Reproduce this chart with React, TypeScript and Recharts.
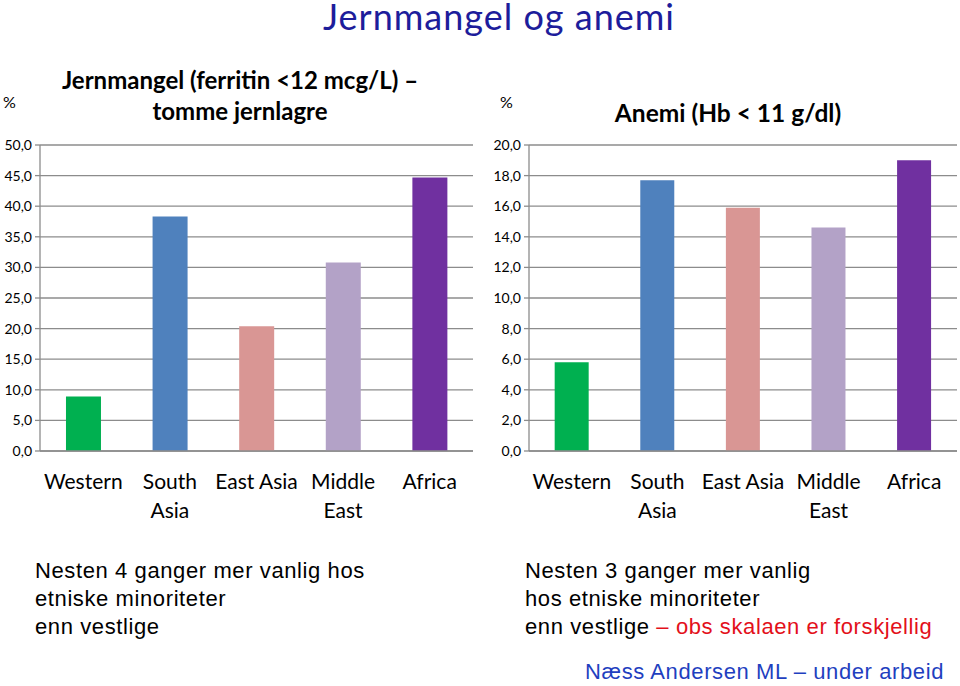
import { BarChart, Bar, XAxis, YAxis, CartesianGrid, Cell } from "recharts";

const categories = ["Western", "South Asia", "East Asia", "Middle East", "Africa"];
const categoryLines: Record<string, string[]> = {
  Western: ["Western"],
  "South Asia": ["South", "Asia"],
  "East Asia": ["East Asia"],
  "Middle East": ["Middle", "East"],
  Africa: ["Africa"],
};
const ironDeficiency = [8.9, 38.3, 20.4, 30.8, 44.7];
const anemia = [5.8, 17.7, 15.9, 14.6, 19.0];
const barColors = ["#00B050", "#4F81BD", "#D99694", "#B3A2C7", "#7030A0"];
const ironTicks = [0, 5, 10, 15, 20, 25, 30, 35, 40, 45, 50];
const anemiaTicks = [0, 2, 4, 6, 8, 10, 12, 14, 16, 18, 20];
const boundaryTicks = [0, 1, 2, 3, 4, 5];

const GRID = "#8c8c8c";
const CHART_FONT = "Lato, 'Noto Sans', sans-serif";
const TEXT_FONT = "'Liberation Sans', Arial, sans-serif";

const fmt = (v: number) => v.toFixed(1).replace(".", ",");

function CategoryTick({ x, y, payload }: any) {
  const lines = categoryLines[payload.value] || [payload.value];
  return (
    <text x={x} y={y} textAnchor="middle" fontSize={21} fill="#000" fontFamily={CHART_FONT}>
      {lines.map((l, i) => (
        <tspan key={i} x={x} dy={i === 0 ? "0.72em" : "1.37em"}>
          {l}
        </tspan>
      ))}
    </text>
  );
}

interface PanelProps {
  values: number[];
  ticks: number[];
  left: number;
  yWidth: number;
  rightMargin: number;
}

function Panel({ values, ticks, left, yWidth, rightMargin }: PanelProps) {
  const data = categories.map((c, i) => ({ name: c, value: values[i] }));
  return (
    <div style={{ position: "absolute", left, top: 0 }}>
      <BarChart
        width={480}
        height={530}
        data={data}
        margin={{ top: 145, right: rightMargin, left: 0, bottom: 0 }}
        barCategoryGap="30%"
      >
        <CartesianGrid vertical={false} stroke={GRID} strokeWidth={1.3} xAxisId="b" />
        {/* axis line with tick marks between the categories */}
        <XAxis
          xAxisId="a"
          type="number"
          domain={[0, 5]}
          ticks={boundaryTicks}
          tick={false}
          tickSize={7}
          height={8}
          stroke={GRID}
          strokeWidth={1.3}
        />
        <XAxis
          xAxisId="b"
          dataKey="name"
          axisLine={false}
          tickLine={false}
          tickSize={0}
          tickMargin={15}
          height={71}
          interval={0}
          tick={<CategoryTick />}
        />
        <YAxis
          domain={[0, ticks[ticks.length - 1]]}
          ticks={ticks}
          interval={0}
          width={yWidth}
          tickFormatter={fmt}
          tickSize={5}
          tickMargin={3}
          stroke={GRID}
          strokeWidth={1.3}
          tick={{ fontSize: 14, fill: "#000", fontFamily: CHART_FONT }}
        />
        <Bar dataKey="value" xAxisId="b" isAnimationActive={false}>
          {data.map((d, i) => (
            <Cell key={d.name} fill={barColors[i]} />
          ))}
        </Bar>
      </BarChart>
    </div>
  );
}

const abs = (o: React.CSSProperties): React.CSSProperties => ({ position: "absolute", whiteSpace: "nowrap", ...o });

export default function App() {
  return (
    <div style={{ position: "absolute", left: 0, top: 0, width: 960, height: 686, background: "#fff", overflow: "hidden" }}>
      <Panel values={ironDeficiency} ticks={ironTicks} left={0} yWidth={40} rightMargin={7} />
      <Panel values={anemia} ticks={anemiaTicks} left={480} yWidth={49} rightMargin={3} />

      <div style={abs({ left: 0, width: 998, top: 3, textAlign: "center", fontFamily: CHART_FONT, fontSize: 36, letterSpacing: 1, color: "#1d1d9b", lineHeight: "26px" })}>
        Jernmangel og anemi
      </div>

      <div style={abs({ left: 3, top: 92, fontFamily: CHART_FONT, fontSize: 16, lineHeight: "20px" })}>%</div>
      <div style={abs({ left: 500, top: 92, fontFamily: CHART_FONT, fontSize: 16, lineHeight: "20px" })}>%</div>

      <div style={abs({ left: 40, width: 400, top: 64, textAlign: "center", fontFamily: CHART_FONT, fontWeight: 700, fontSize: 24, lineHeight: "31px" })}>
        Jernmangel (ferritin &lt;12 mcg/L) –<br />tomme jernlagre
      </div>
      <div style={abs({ left: 530, width: 396, top: 97, textAlign: "center", fontFamily: CHART_FONT, fontWeight: 700, fontSize: 24.5, lineHeight: "31px" })}>
        Anemi (Hb &lt; 11 g/dl)
      </div>

      <div style={abs({ left: 35, top: 557, fontFamily: TEXT_FONT, fontSize: 22, letterSpacing: 0.6, lineHeight: "28px" })}>
        Nesten 4 ganger mer vanlig hos<br />etniske minoriteter<br />enn vestlige
      </div>
      <div style={abs({ left: 525, top: 557, fontFamily: TEXT_FONT, fontSize: 22, letterSpacing: 0.6, lineHeight: "28px" })}>
        Nesten 3 ganger mer vanlig<br />hos etniske minoriteter<br />enn vestlige <span style={{ color: "#e3101a" }}>– obs skalaen er forskjellig</span>
      </div>
      <div style={abs({ left: 585, top: 658, fontFamily: TEXT_FONT, fontSize: 22, letterSpacing: 0.6, lineHeight: "28px", color: "#1f3fbf" })}>
        Næss Andersen ML – under arbeid
      </div>
    </div>
  );
}
